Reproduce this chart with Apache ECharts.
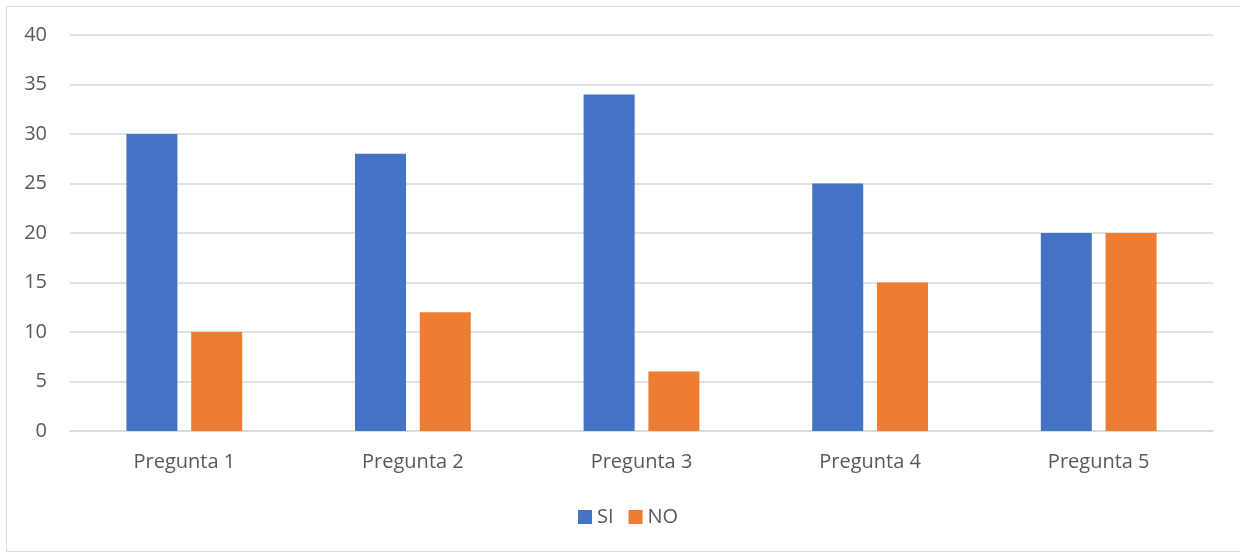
<!DOCTYPE html>
<html>
<head>
<meta charset="utf-8">
<script src="https://cdn.jsdelivr.net/npm/echarts@6/dist/echarts.min.js"></script>
<style>
  html, body { margin: 0; padding: 0; background: #fff; }
  #frame { position: absolute; left: 6px; top: 6px; width: 1250px; height: 546px; border: 1px solid #d9d9d9; box-sizing: border-box; }
  #chart { position: absolute; left: 0; top: 0; width: 1240px; height: 554px; }
</style>
</head>
<body>
<div id="frame"></div>
<div id="chart"></div>
<script>
// Survey answers per question
const categories = ['Pregunta 1', 'Pregunta 2', 'Pregunta 3', 'Pregunta 4', 'Pregunta 5'];
const siValues = [30, 28, 34, 25, 20];
const noValues = [10, 12, 6, 15, 20];
const seriesNames = ['SI', 'NO'];

const textColor = '#595959';
const fontFamily = '"Open Sans", "Noto Sans", sans-serif';

const chart = echarts.init(document.getElementById('chart'), null, { renderer: 'canvas' });
chart.setOption({
  animation: false,
  grid: { left: 70, right: 27, top: 35, bottom: 123, containLabel: false },
  legend: {
    data: seriesNames,
    top: 502,
    left: 573,
    itemWidth: 14,
    itemHeight: 14,
    itemGap: 15,
    icon: 'rect',
    textStyle: { color: textColor, fontSize: 20, fontFamily: fontFamily }
  },
  xAxis: {
    type: 'category',
    data: categories,
    axisLine: { lineStyle: { color: '#d9d9d9', width: 1.5 } },
    axisTick: { show: false },
    axisLabel: { color: textColor, fontSize: 20, fontFamily: fontFamily, margin: 21 }
  },
  yAxis: {
    type: 'value',
    min: 0,
    max: 40,
    interval: 5,
    axisLine: { show: false },
    axisTick: { show: false },
    splitLine: { lineStyle: { color: '#d9d9d9', width: 1.5 } },
    axisLabel: { color: textColor, fontSize: 20, fontFamily: fontFamily, margin: 23 }
  },
  series: [
    { name: seriesNames[0], type: 'bar', data: siValues, barWidth: 51, barGap: '27%', itemStyle: { color: '#4472C4' } },
    { name: seriesNames[1], type: 'bar', data: noValues, barWidth: 51, barGap: '27%', itemStyle: { color: '#ED7D31' } }
  ]
});
</script>
</body>
</html>
